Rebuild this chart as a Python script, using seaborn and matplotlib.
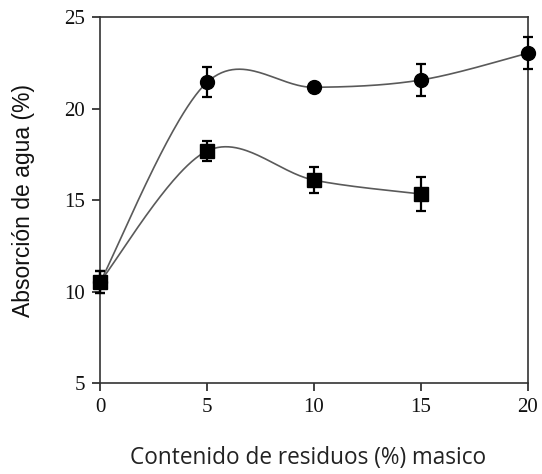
import numpy as np
import pandas as pd
import matplotlib
matplotlib.use("Agg")
import matplotlib.pyplot as plt
import seaborn as sns

# Water absorption vs. residue content (mass %)
residuos_circ = [0, 5, 10, 15, 20]
absorcion_circ = [10.5, 21.43, 21.16, 21.56, 23.03]
error_circ = [0.6, 0.82, 0.1, 0.9, 0.87]

residuos_cuad = [0, 5, 10, 15]
absorcion_cuad = [10.53, 17.68, 16.09, 15.33]
error_cuad = [0.6, 0.55, 0.72, 0.93]

x_ticks = [0, 5, 10, 15, 20]
y_ticks = [5, 10, 15, 20, 25]


def smooth_curve(x, y, n=60):
    """Smoothed connecting line (Catmull-Rom style Bezier segments)."""
    p = np.column_stack([np.asarray(x, float), np.asarray(y, float)])
    p_ext = np.vstack([p[0], p, p[-1]])
    t = np.linspace(0, 1, n)[:, None]
    segs = []
    for i in range(len(p) - 1):
        p0, p1 = p_ext[i + 1], p_ext[i + 2]
        c1 = p0 + (p_ext[i + 2] - p_ext[i]) / 6
        c2 = p1 - (p_ext[i + 3] - p_ext[i + 1]) / 6
        seg = ((1 - t) ** 3 * p0 + 3 * (1 - t) ** 2 * t * c1
               + 3 * (1 - t) * t ** 2 * c2 + t ** 3 * p1)
        segs.append(seg if i == 0 else seg[1:])
    out = np.vstack(segs)
    return out[:, 0], out[:, 1]


sns.set_theme(style="ticks")
plt.rcParams["font.family"] = ["Liberation Serif", "DejaVu Sans"]

fig = plt.figure(figsize=(5.42, 4.74), dpi=100)
ax = fig.add_axes([0.1845, 0.192, 0.7895, 0.772])

for xv, yv in [(residuos_circ, absorcion_circ), (residuos_cuad, absorcion_cuad)]:
    xs, ys = smooth_curve(xv, yv)
    curva = pd.DataFrame({"x": xs, "y": ys})
    sns.lineplot(data=curva, x="x", y="y", ax=ax, color="#5a5a5a",
                 linewidth=1.2, sort=False, estimator=None)

ax.errorbar(residuos_circ, absorcion_circ, yerr=error_circ, fmt="o",
            color="black", markersize=10, capsize=3.5, elinewidth=1.6,
            capthick=1.6, clip_on=False, zorder=3)
ax.errorbar(residuos_cuad, absorcion_cuad, yerr=error_cuad, fmt="s",
            color="black", markersize=10, capsize=3.5, elinewidth=1.6,
            capthick=1.6, clip_on=False, zorder=4)

ax.set_xlim(0, 20)
ax.set_ylim(5, 25)
ax.set_xticks(x_ticks)
ax.set_yticks(y_ticks)
ax.tick_params(axis="both", direction="out", length=6, width=1.2,
               labelsize=15, color="#222222", labelcolor="#111111", pad=5)
for s in ax.spines.values():
    s.set_color("#333333")
    s.set_linewidth(1.2)

ax.set_xlabel("Contenido de residuos (%) masico", fontfamily="Open Sans",
              fontsize=16.3, color="#222222")
ax.xaxis.set_label_coords(0.486, -0.172)
ax.set_ylabel("Absorción de agua (%)", fontfamily="Liberation Sans",
              fontsize=16.5, color="#111111", labelpad=21)

fig.savefig("out.png", dpi=100)
